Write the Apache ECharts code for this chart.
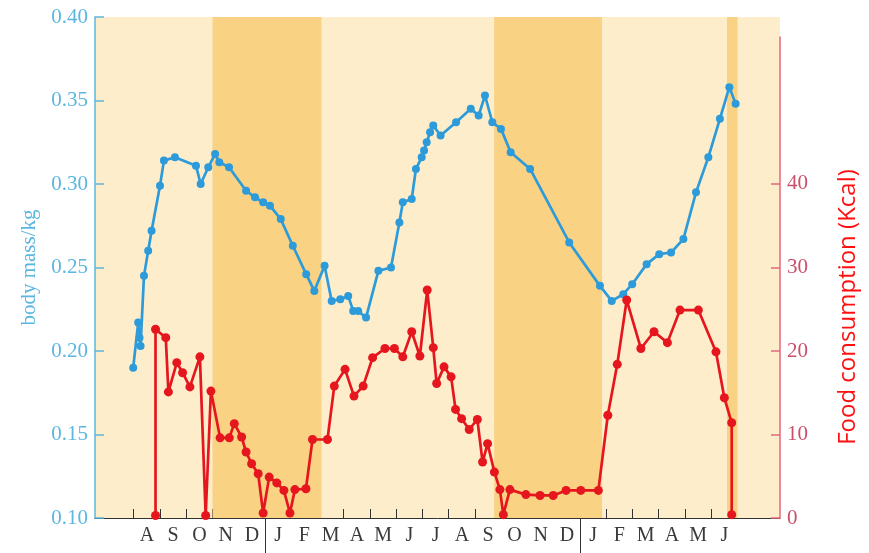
<!DOCTYPE html>
<html>
<head>
<meta charset="utf-8">
<script src="https://cdn.jsdelivr.net/npm/echarts@6/dist/echarts.min.js"></script>
<style>
  html, body { margin: 0; padding: 0; background: #ffffff; }
  #chart { width: 869px; height: 553px; }
</style>
</head>
<body>
<div id="chart"></div>
<script>
// Month initials from August (year 1) to June (year 3).
// Time values below are in months counted from 1 August of year 1.
const monthLabels = ['A','S','O','N','D','J','F','M','A','M','J','J','A','S','O','N','D','J','F','M','A','M','J'];

// Body mass (kg)
const massTime = [-0.02, 0.17, 0.22, 0.26, 0.39, 0.55, 0.68, 1.00, 1.15, 1.57, 2.37, 2.55, 2.84, 3.10, 3.26, 3.63,
  4.28, 4.62, 4.93, 5.19, 5.60, 6.06, 6.57, 6.88, 7.27, 7.54, 7.87, 8.17, 8.36, 8.55, 8.85, 9.32, 9.80, 10.12, 10.25,
  10.59, 10.75, 10.97, 11.06, 11.16, 11.29, 11.41, 11.69, 12.28, 12.84, 13.14, 13.38, 13.66, 13.99, 14.36, 15.10,
  16.59, 17.76, 18.21, 18.65, 18.99, 19.54, 20.02, 20.47, 20.94, 21.42, 21.89, 22.33, 22.69, 22.93];
const massValues = [0.190, 0.217, 0.208, 0.203, 0.245, 0.260, 0.272, 0.299, 0.314, 0.316, 0.311, 0.300, 0.310, 0.318,
  0.313, 0.310, 0.296, 0.292, 0.289, 0.287, 0.279, 0.263, 0.246, 0.236, 0.251, 0.230, 0.231, 0.233, 0.224, 0.224,
  0.220, 0.248, 0.250, 0.277, 0.289, 0.291, 0.309, 0.316, 0.320, 0.325, 0.331, 0.335, 0.329, 0.337, 0.345, 0.341,
  0.353, 0.337, 0.333, 0.319, 0.309, 0.265, 0.239, 0.230, 0.234, 0.240, 0.252, 0.258, 0.259, 0.267, 0.295, 0.316,
  0.339, 0.358, 0.348];

// Food consumption (Kcal)
const foodTime = [0.83, 0.83, 1.22, 1.32, 1.64, 1.86, 2.14, 2.52, 2.74, 2.94, 3.29, 3.64, 3.83, 4.11, 4.28, 4.49,
  4.74, 4.93, 5.16, 5.45, 5.72, 5.95, 6.14, 6.56, 6.81, 7.38, 7.64, 8.05, 8.39, 8.74, 9.10, 9.57, 9.93, 10.25, 10.59,
  10.90, 11.18, 11.41, 11.54, 11.82, 12.09, 12.26, 12.49, 12.78, 13.09, 13.29, 13.48, 13.74, 13.95, 14.08, 14.33,
  14.94, 15.48, 15.98, 16.47, 17.03, 17.70, 18.06, 18.42, 18.78, 19.32, 19.82, 20.33, 20.81, 21.51, 22.18, 22.50,
  22.78, 22.78];
const foodValues = [0.3, 22.6, 21.6, 15.1, 18.6, 17.4, 15.7, 19.3, 0.3, 15.2, 9.6, 9.6, 11.3, 9.7, 7.9, 6.5, 5.3,
  0.6, 4.9, 4.2, 3.3, 0.6, 3.4, 3.5, 9.4, 9.4, 15.8, 17.8, 14.6, 15.8, 19.2, 20.3, 20.3, 19.3, 22.3, 19.4, 27.3,
  20.4, 16.1, 18.1, 16.9, 13.0, 11.9, 10.6, 11.8, 6.7, 8.9, 5.5, 3.4, 0.4, 3.4, 2.8, 2.7, 2.7, 3.3, 3.3, 3.3, 12.3,
  18.4, 26.1, 20.3, 22.3, 21.0, 24.9, 24.9, 19.9, 14.4, 11.4, 0.4];

// Shaded winter periods (months from 1 August) and year starts
const winterBands = [[3.0, 7.15], [13.73, 17.84], [22.6, 23.0]];
const yearStarts = [5, 17];
const monthStarts = monthLabels.map((_, i) => i);
const monthMids = monthLabels.map((_, i) => i + 0.5);
const foodTicks = [0, 10, 20, 30, 40];

const serif = 'Liberation Serif';
const blue = '#2D9BDA';
const red = '#E5161D';
const xMin = -1.476, xMax = 24.62;

const chart = echarts.init(document.getElementById('chart'), null, { renderer: 'canvas' });

chart.setOption({
  animation: false,
  textStyle: { fontFamily: serif },
  grid: [
    { left: 95, right: 89, top: 17, bottom: 35, show: true, backgroundColor: '#FDEDCB', borderWidth: 0 },
    { left: 95, right: 89, top: 37, bottom: 35 }
  ],
  xAxis: [
    {
      // month letters under the axis line
      type: 'value', gridIndex: 0, min: xMin, max: xMax,
      axisLine: { show: true, onZero: false, lineStyle: { color: '#333333', width: 1 } },
      axisTick: { show: false },
      axisLabel: {
        show: true, customValues: monthMids, margin: 8,
        fontFamily: serif, fontSize: 20, color: '#3a3a3a',
        formatter: v => monthLabels[Math.floor(v)] || ''
      },
      splitLine: { show: false }
    },
    {
      // long marks at the start of each year
      type: 'value', gridIndex: 1, min: xMin, max: xMax,
      axisLine: { show: false, onZero: false },
      axisTick: { show: true, inside: false, length: 37, customValues: yearStarts, lineStyle: { color: '#333333', width: 1 } },
      axisLabel: { show: false },
      splitLine: { show: false }
    },
    {
      // short marks standing on the axis line at each month boundary
      type: 'value', gridIndex: 0, min: xMin, max: xMax, position: 'bottom', offset: -9,
      axisLine: { show: false, onZero: false },
      axisTick: { show: true, inside: false, length: 9, customValues: monthStarts, lineStyle: { color: '#333333', width: 1 } },
      axisLabel: { show: false },
      splitLine: { show: false }
    }
  ],
  yAxis: [
    {
      type: 'value', gridIndex: 0, position: 'left', min: 0.10, max: 0.40, interval: 0.05,
      name: 'body mass/kg', nameLocation: 'middle', nameGap: 54, nameRotate: 90,
      nameTextStyle: { fontFamily: serif, fontSize: 21, color: '#5BB7DF' },
      axisLine: { show: true, onZero: false, lineStyle: { color: '#5BB7DF', width: 1.5 } },
      axisTick: { show: true, inside: true, length: 9, lineStyle: { color: '#5BB7DF', width: 1.5 } },
      axisLabel: { fontFamily: serif, fontSize: 21, color: '#5BB7DF', margin: 7, formatter: v => v.toFixed(2) },
      splitLine: { show: false }
    },
    {
      type: 'value', gridIndex: 1, position: 'right', min: 0, max: 57.6,
      axisLine: { show: true, onZero: false, lineStyle: { color: '#E0687C', width: 1.5 } },
      axisTick: { show: true, inside: true, length: 9, customValues: foodTicks, lineStyle: { color: '#E0687C', width: 1.5 } },
      axisLabel: { fontFamily: serif, fontSize: 21, color: '#C9506B', margin: 7, customValues: foodTicks },
      splitLine: { show: false }
    }
  ],
  graphic: [
    {
      type: 'text', x: 848, y: 307, rotation: Math.PI / 2,
      style: {
        text: 'Food consumption (Kcal)', x: 0, y: 0, align: 'center', verticalAlign: 'middle',
        fill: '#FF1010', font: '24px "Open Sans", "Noto Sans", sans-serif'
      }
    }
  ],
  series: [
    {
      name: 'body mass', type: 'line', xAxisIndex: 0, yAxisIndex: 0,
      data: massTime.map((t, i) => [t, massValues[i]]),
      symbol: 'circle', symbolSize: 8, showSymbol: true,
      lineStyle: { color: blue, width: 2.7 },
      itemStyle: { color: blue },
      markArea: {
        silent: true,
        itemStyle: { color: '#F9D383' },
        data: winterBands.map(b => [{ xAxis: b[0] }, { xAxis: b[1] }])
      },
      z: 3
    },
    {
      name: 'food consumption', type: 'line', xAxisIndex: 1, yAxisIndex: 1,
      data: foodTime.map((t, i) => [t, foodValues[i]]),
      symbol: 'circle', symbolSize: 9, showSymbol: true,
      lineStyle: { color: red, width: 2.7 },
      itemStyle: { color: red },
      z: 4
    }
  ]
});
</script>
</body>
</html>
